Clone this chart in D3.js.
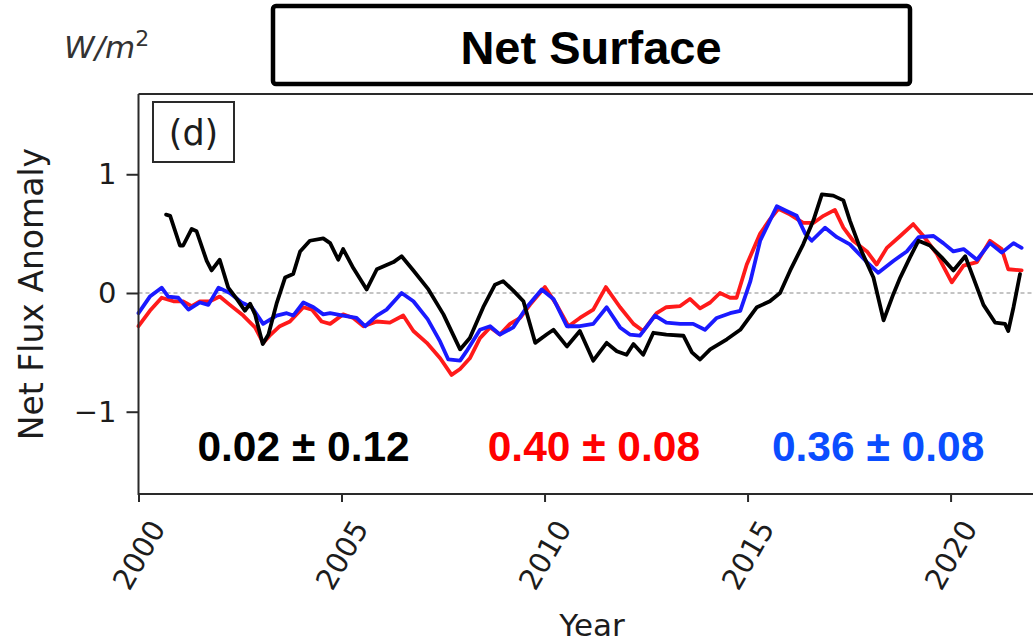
<!DOCTYPE html>
<html>
<head>
<meta charset="utf-8">
<script src="https://cdn.jsdelivr.net/npm/d3@7/dist/d3.min.js"></script>
<style>
  html, body { margin: 0; padding: 0; background: #fff; }
  svg { display: block; }
</style>
</head>
<body>
<svg id="chart" width="1033" height="643"></svg>
<script>
// Net surface flux anomaly (W/m^2), running means
const blackYears = [2000.68,2000.78,2001.02,2001.10,2001.31,2001.43,2001.68,2001.80,2002.00,2002.21,2002.42,2002.62,2002.75,2002.87,2003.06,2003.20,2003.40,2003.61,2003.81,2003.98,2004.22,2004.55,2004.72,2004.92,2005.04,2005.29,2005.62,2005.87,2006.28,2006.48,2006.77,2007.14,2007.51,2007.92,2008.16,2008.49,2008.78,2008.98,2009.23,2009.48,2009.77,2010.05,2010.22,2010.55,2010.87,2011.20,2011.53,2011.78,2012.02,2012.19,2012.43,2012.68,2013.00,2013.42,2013.63,2013.83,2014.08,2014.49,2014.82,2015.23,2015.55,2015.80,2016.05,2016.37,2016.62,2016.83,2017.11,2017.36,2017.52,2017.77,2018.10,2018.35,2018.59,2018.76,2019.00,2019.21,2019.49,2019.78,2020.07,2020.36,2020.56,2020.81,2021.10,2021.34,2021.42,2021.55,2021.71];
const blackValues = [0.66,0.65,0.40,0.40,0.54,0.52,0.27,0.19,0.28,0.045,-0.05,-0.15,-0.09,-0.18,-0.43,-0.35,-0.09,0.13,0.16,0.35,0.44,0.46,0.42,0.28,0.37,0.21,0.03,0.20,0.26,0.31,0.19,0.03,-0.18,-0.475,-0.38,-0.12,0.07,0.10,0.02,-0.07,-0.42,-0.35,-0.31,-0.45,-0.32,-0.57,-0.42,-0.49,-0.52,-0.43,-0.52,-0.335,-0.35,-0.36,-0.50,-0.56,-0.475,-0.39,-0.31,-0.12,-0.07,0.00,0.19,0.41,0.61,0.83,0.82,0.78,0.61,0.38,0.13,-0.23,-0.01,0.13,0.30,0.44,0.40,0.30,0.19,0.31,0.13,-0.10,-0.25,-0.26,-0.32,-0.12,0.16];

const redYears = [2000.00,2000.28,2000.57,2000.86,2001.10,2001.31,2001.51,2001.76,2002.00,2002.25,2002.58,2002.87,2003.07,2003.23,2003.48,2003.73,2004.06,2004.27,2004.51,2004.72,2005.04,2005.29,2005.54,2005.87,2006.19,2006.52,2006.77,2007.10,2007.43,2007.71,2007.92,2008.16,2008.41,2008.66,2008.90,2009.15,2009.40,2009.64,2010.01,2010.30,2010.59,2010.87,2011.20,2011.51,2011.86,2012.19,2012.43,2012.76,2013.00,2013.34,2013.58,2013.83,2014.08,2014.32,2014.57,2014.73,2014.98,2015.31,2015.55,2015.76,2016.05,2016.37,2016.62,2016.87,2017.15,2017.36,2017.60,2017.94,2018.18,2018.43,2018.76,2019.08,2019.33,2019.66,2020.03,2020.32,2020.65,2020.97,2021.26,2021.42,2021.75];
const redValues = [-0.28,-0.15,-0.04,-0.07,-0.07,-0.11,-0.07,-0.07,-0.03,-0.10,-0.19,-0.29,-0.42,-0.36,-0.28,-0.24,-0.12,-0.14,-0.24,-0.26,-0.18,-0.21,-0.28,-0.24,-0.25,-0.19,-0.32,-0.42,-0.55,-0.69,-0.64,-0.55,-0.38,-0.29,-0.35,-0.26,-0.21,-0.10,0.05,-0.10,-0.28,-0.21,-0.14,0.05,-0.12,-0.26,-0.32,-0.17,-0.12,-0.11,-0.05,-0.13,-0.08,0.00,-0.04,-0.04,0.24,0.50,0.62,0.71,0.66,0.59,0.59,0.65,0.70,0.55,0.44,0.35,0.24,0.38,0.48,0.58,0.48,0.33,0.09,0.23,0.26,0.44,0.37,0.20,0.19];

const blueYears = [2000.00,2000.28,2000.57,2000.73,2000.98,2001.23,2001.51,2001.72,2001.97,2002.25,2002.54,2002.79,2003.07,2003.40,2003.65,2003.81,2004.06,2004.31,2004.55,2004.72,2005.04,2005.37,2005.58,2005.87,2006.11,2006.48,2006.77,2007.12,2007.43,2007.63,2007.92,2008.08,2008.41,2008.66,2008.90,2009.23,2009.56,2009.93,2010.22,2010.55,2010.87,2011.20,2011.53,2011.86,2012.10,2012.35,2012.72,2013.00,2013.34,2013.66,2013.95,2014.24,2014.57,2014.82,2015.07,2015.31,2015.55,2015.72,2015.96,2016.21,2016.42,2016.58,2016.91,2017.20,2017.52,2017.94,2018.22,2018.59,2018.92,2019.21,2019.58,2019.82,2020.07,2020.32,2020.65,2020.97,2021.26,2021.55,2021.75];
const blueValues = [-0.17,-0.03,0.045,-0.03,-0.04,-0.14,-0.08,-0.10,0.045,0.00,-0.08,-0.12,-0.26,-0.19,-0.17,-0.19,-0.08,-0.12,-0.18,-0.17,-0.19,-0.21,-0.28,-0.19,-0.14,0.00,-0.07,-0.22,-0.41,-0.56,-0.57,-0.49,-0.31,-0.28,-0.35,-0.29,-0.12,0.03,-0.05,-0.28,-0.28,-0.26,-0.12,-0.29,-0.35,-0.36,-0.19,-0.25,-0.26,-0.26,-0.31,-0.21,-0.17,-0.15,0.10,0.44,0.61,0.73,0.69,0.65,0.50,0.44,0.55,0.47,0.41,0.26,0.17,0.27,0.35,0.47,0.48,0.42,0.35,0.37,0.28,0.42,0.34,0.42,0.38];

const xTicks = [2000, 2005, 2010, 2015, 2020];
const yTicks = [-1, 0, 1];
const trendLabels = ["0.02 \u00b1 0.12", "0.40 \u00b1 0.08", "0.36 \u00b1 0.08"];
const trendColors = ["#000000", "#ff0000", "#0a4dff"];
const trendYears = [2001.45, 2008.6, 2015.6];

const svg = d3.select("#chart");
const plotLeft = 138.5, plotTop = 94, plotBottom = 494, plotRight = 1046;

const x = d3.scaleLinear().domain([2000, 2022.35]).range([plotLeft, plotRight]);
const y = d3.scaleLinear().domain([-1.693, 1.676]).range([plotBottom, plotTop]);

const axisFont = "DejaVu Sans, sans-serif";
const ink = "#1c1c1c";

// title box
svg.append("rect")
  .attr("x", 273).attr("y", 6).attr("width", 637).attr("height", 78)
  .attr("rx", 3).attr("fill", "#fff").attr("stroke", "#000").attr("stroke-width", 4.5);
svg.append("text")
  .attr("x", 591).attr("y", 64).attr("text-anchor", "middle")
  .style("font-family", "Liberation Sans, Arial, sans-serif")
  .style("font-weight", "bold").style("font-size", "47px").attr("fill", "#000")
  .text("Net Surface");

// unit label
const unit = svg.append("text")
  .attr("x", 64).attr("y", 58)
  .style("font-family", axisFont).style("font-style", "italic")
  .style("font-size", "31px").attr("fill", "#333");
unit.append("tspan").text("W/m");
unit.append("tspan").attr("dy", -12).style("font-size", "22px").style("font-style", "normal").text("2");

// zero reference line
svg.append("line")
  .attr("x1", plotLeft).attr("x2", 1033)
  .attr("y1", y(0)).attr("y2", y(0))
  .attr("stroke", "#8a8a8a").attr("stroke-width", 1.2)
  .attr("stroke-dasharray", "4,3");

// series lines
const line = d3.line().x(d => x(d[0])).y(d => y(d[1])).curve(d3.curveLinear);
const series = [
  { color: "#ff1a1a", years: redYears, values: redValues },
  { color: "#1a1aff", years: blueYears, values: blueValues },
  { color: "#000000", years: blackYears, values: blackValues }
];
series.forEach(s => {
  svg.append("path")
    .datum(d3.zip(s.years, s.values))
    .attr("d", line)
    .attr("fill", "none")
    .attr("stroke", s.color)
    .attr("stroke-width", 3.8)
    .attr("stroke-linejoin", "round")
    .attr("stroke-linecap", "round");
});

// spines
const spine = svg.append("g").attr("stroke", "#2a2a2a").attr("stroke-width", 2).attr("fill", "none");
spine.append("line").attr("x1", plotLeft).attr("x2", plotLeft).attr("y1", plotTop).attr("y2", plotBottom + 1);
spine.append("line").attr("x1", plotLeft).attr("x2", 1033).attr("y1", plotTop).attr("y2", plotTop);
spine.append("line").attr("x1", plotLeft).attr("x2", 1033).attr("y1", plotBottom).attr("y2", plotBottom);

// y axis
const yAxis = svg.append("g").attr("transform", `translate(${plotLeft},0)`)
  .call(d3.axisLeft(y).tickValues(yTicks).tickSize(12).tickPadding(10)
    .tickFormat(d => d < 0 ? "\u2212" + Math.abs(d) : String(d)));
yAxis.select(".domain").remove();
yAxis.selectAll(".tick line").attr("stroke", "#2a2a2a").attr("stroke-width", 2);
yAxis.selectAll(".tick text")
  .style("font-family", axisFont).style("font-size", "29px").attr("fill", ink);

// x axis
const xAxis = svg.append("g").attr("transform", `translate(0,${plotBottom})`)
  .call(d3.axisBottom(x).tickValues(xTicks).tickSize(8).tickFormat(d3.format("d")));
xAxis.select(".domain").remove();
xAxis.selectAll(".tick line").attr("stroke", "#2a2a2a").attr("stroke-width", 2);
xAxis.selectAll(".tick text")
  .style("font-family", axisFont).style("font-size", "29px").attr("fill", ink)
  .attr("text-anchor", "middle").attr("dominant-baseline", "central")
  .attr("y", 61).attr("dy", null)
  .attr("transform", "rotate(-60,0,61)");

// axis titles
svg.append("text")
  .attr("x", 592).attr("y", 636).attr("text-anchor", "middle")
  .style("font-family", axisFont).style("font-size", "31px").attr("fill", ink)
  .text("Year");
svg.append("text")
  .attr("transform", `translate(43,${(plotTop + plotBottom) / 2}) rotate(-90)`)
  .attr("text-anchor", "middle")
  .style("font-family", axisFont).style("font-size", "33px").attr("fill", ink)
  .text("Net Flux Anomaly");

// panel tag
svg.append("rect")
  .attr("x", 153).attr("y", 102).attr("width", 81).attr("height", 60)
  .attr("fill", "#fff").attr("stroke", "#2a2a2a").attr("stroke-width", 2);
svg.append("text")
  .attr("x", 193.5).attr("y", 145).attr("text-anchor", "middle")
  .style("font-family", axisFont).style("font-size", "35px").attr("fill", ink)
  .text("(d)");

// trend annotations
svg.selectAll(".trend")
  .data(trendLabels)
  .join("text")
  .attr("class", "trend")
  .attr("x", (d, i) => x(trendYears[i]))
  .attr("y", 461)
  .style("font-family", "Liberation Sans, Arial, sans-serif")
  .style("font-weight", "bold").style("font-size", "42.5px")
  .attr("fill", (d, i) => trendColors[i])
  .text(d => d);
</script>
</body>
</html>
